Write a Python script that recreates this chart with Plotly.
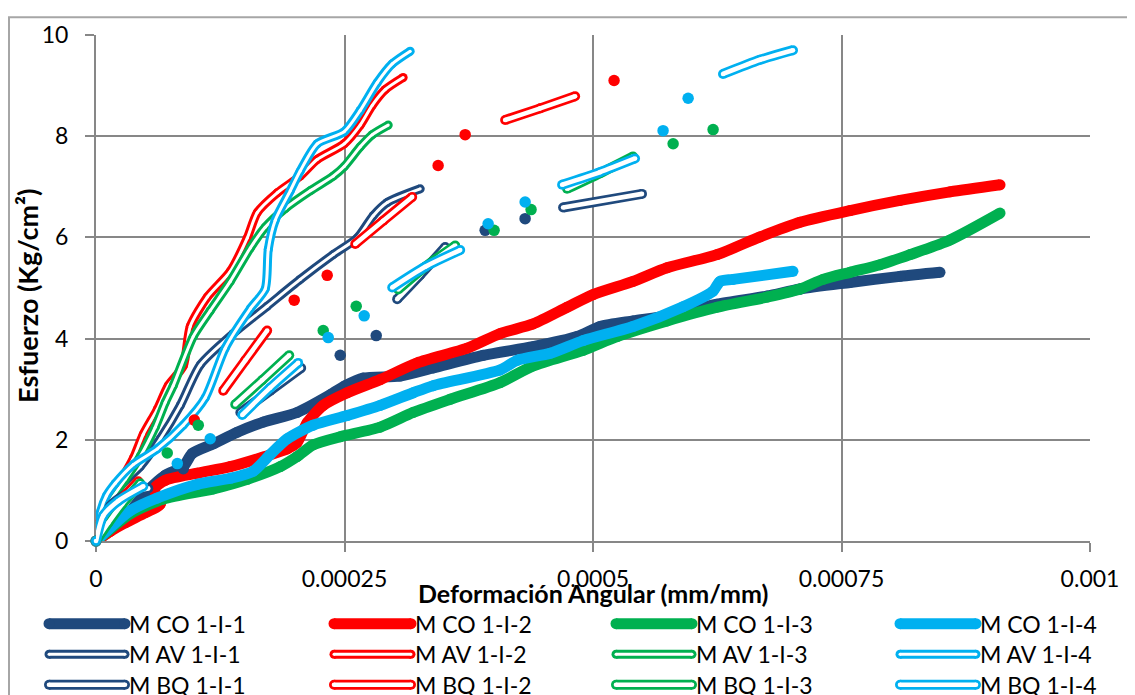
import plotly.graph_objects as go

# ---------------- data ----------------
NAVY = "#1F497D"
RED = "#FF0000"
GREEN = "#00B050"
CYAN = "#00B0F0"

x_tick_vals = [0, 0.00025, 0.0005, 0.00075, 0.001]
x_tick_labels = ["0", "0.00025", "0.0005", "0.00075", "0.001"]
y_tick_vals = [0, 2, 4, 6, 8, 10]
y_tick_labels = ["0", "2", "4", "6", "8", "10"]

x_title = "Deformación Angular (mm/mm)"
y_title = "Esfuerzo (Kg/cm²)"

# M CO series (thick solid lines)
co1_x = [0, 0.244e-4, 0.516e-4, 0.697e-4, 0.878e-4, 0.968e-4, 1.180e-4, 1.421e-4, 1.683e-4, 2.024e-4,
         2.356e-4, 2.507e-4, 2.688e-4, 3.059e-4, 3.392e-4, 3.894e-4, 4.397e-4, 4.840e-4, 5.071e-4,
         5.403e-4, 5.745e-4, 6.248e-4, 6.751e-4, 7.083e-4, 7.586e-4, 8.089e-4, 8.491e-4]
co1_y = [0, 0.36, 0.99, 1.30, 1.47, 1.73, 1.92, 2.15, 2.35, 2.54, 2.89, 3.07, 3.22, 3.26, 3.42, 3.67,
         3.84, 4.04, 4.24, 4.35, 4.45, 4.68, 4.84, 4.98, 5.11, 5.23, 5.31]

co2_x = [0, 0.144e-4, 0.295e-4, 0.496e-4, 0.647e-4, 0.586e-4, 0.697e-4, 1.019e-4, 1.351e-4, 1.683e-4,
         1.924e-4, 2.024e-4, 2.125e-4, 2.286e-4, 2.527e-4, 2.859e-4, 3.231e-4, 3.734e-4, 4.066e-4,
         4.397e-4, 4.739e-4, 5.001e-4, 5.403e-4, 5.745e-4, 6.248e-4, 6.680e-4, 7.083e-4, 7.586e-4,
         8.089e-4, 8.592e-4, 9.095e-4]
co2_y = [0, 0.19, 0.36, 0.56, 0.73, 1.03, 1.20, 1.34, 1.47, 1.66, 1.82, 1.95, 2.34, 2.68, 2.93, 3.19,
         3.52, 3.81, 4.10, 4.29, 4.62, 4.87, 5.13, 5.40, 5.66, 6.01, 6.30, 6.53, 6.73, 6.90, 7.04]

co3_x = [0, 0.345e-4, 0.677e-4, 1.180e-4, 1.522e-4, 1.854e-4, 2.024e-4, 2.185e-4, 2.457e-4, 2.859e-4,
         3.191e-4, 3.563e-4, 4.066e-4, 4.397e-4, 4.900e-4, 5.242e-4, 5.745e-4, 6.248e-4, 6.751e-4,
         7.083e-4, 7.314e-4, 7.586e-4, 7.888e-4, 8.190e-4, 8.592e-4, 9.095e-4]
co3_y = [0, 0.54, 0.83, 1.03, 1.22, 1.47, 1.67, 1.90, 2.06, 2.25, 2.54, 2.80, 3.13, 3.46, 3.77, 4.04,
         4.35, 4.62, 4.82, 4.98, 5.17, 5.31, 5.46, 5.66, 5.95, 6.48]

co4_x = [0, 0.345e-4, 0.616e-4, 1.019e-4, 1.351e-4, 1.582e-4, 1.753e-4, 1.924e-4, 2.185e-4, 2.527e-4,
         2.859e-4, 3.191e-4, 3.392e-4, 4.066e-4, 4.237e-4, 4.569e-4, 4.900e-4, 5.403e-4, 5.906e-4,
         6.208e-4, 6.278e-4, 6.409e-4, 7.012e-4]
co4_y = [0, 0.60, 0.85, 1.12, 1.24, 1.38, 1.71, 2.02, 2.29, 2.48, 2.68, 2.93, 3.07, 3.38, 3.57, 3.71,
         3.96, 4.24, 4.63, 4.94, 5.13, 5.17, 5.33]

# M AV series (steep double lines)
av1_x = [0, 0.094e-4, 0.244e-4, 0.445e-4, 0.647e-4, 0.848e-4, 1.049e-4, 1.381e-4, 1.722e-4, 2.054e-4,
         2.386e-4, 2.628e-4, 2.789e-4, 2.930e-4, 3.262e-4]
av1_y = [0, 0.50, 1.08, 1.47, 2.02, 2.68, 3.48, 4.10, 4.64, 5.17, 5.66, 5.99, 6.43, 6.69, 6.96]

av2_x = [0, 0.043e-4, 0.114e-4, 0.244e-4, 0.375e-4, 0.476e-4, 0.616e-4, 0.727e-4, 0.878e-4, 0.948e-4,
         1.119e-4, 1.351e-4, 1.522e-4, 1.622e-4, 1.823e-4, 2.054e-4, 2.225e-4, 2.497e-4, 2.658e-4,
         2.779e-4, 2.909e-4, 3.090e-4]
av2_y = [0, 0.40, 0.73, 1.17, 1.63, 2.11, 2.60, 3.07, 3.46, 4.24, 4.82, 5.33, 5.99, 6.49, 6.88, 7.21,
         7.54, 7.85, 8.22, 8.61, 8.92, 9.16]

av3_x = [0, 0.043e-4, 0.144e-4, 0.295e-4, 0.445e-4, 0.596e-4, 0.697e-4, 0.777e-4, 0.978e-4, 1.149e-4,
         1.351e-4, 1.552e-4, 1.702e-4, 1.904e-4, 2.155e-4, 2.386e-4, 2.497e-4, 2.658e-4, 2.779e-4,
         2.940e-4]
av3_y = [0, 0.36, 0.79, 1.22, 1.67, 2.25, 2.74, 3.07, 4.04, 4.55, 5.13, 5.79, 6.20, 6.57, 6.92, 7.21,
         7.40, 7.79, 8.03, 8.22]

av4_x = [0, 0.043e-4, 0.104e-4, 0.194e-4, 0.375e-4, 0.616e-4, 0.878e-4, 1.099e-4, 1.300e-4, 1.552e-4,
         1.702e-4, 1.733e-4, 1.803e-4, 1.954e-4, 2.054e-4, 2.225e-4, 2.497e-4, 2.658e-4, 2.829e-4,
         2.980e-4, 3.161e-4]
av4_y = [0, 0.56, 0.89, 1.14, 1.51, 1.82, 2.29, 2.83, 3.81, 4.59, 4.98, 5.76, 6.34, 6.92, 7.31, 7.85,
         8.09, 8.51, 9.06, 9.43, 9.68]

# M BQ series (broken readings: segments and isolated points)
bq1_x = [0, 0.144e-4, 0.325e-4, 0.526e-4, None, 0.878e-4, None,
         1.452e-4, 1.753e-4, 2.064e-4, None, 2.457e-4, None, 2.819e-4, None,
         3.030e-4, 3.262e-4, 3.513e-4, None, 3.915e-4, None, 4.317e-4, None,
         4.699e-4, 5.493e-4]
bq1_y = [0, 0.69, 0.95, 1.04, None, 1.43, None,
         2.54, 2.97, 3.42, None, 3.67, None, 4.06, None,
         4.78, 5.26, 5.81, None, 6.14, None, 6.37, None,
         6.59, 6.86]

bq2_x = [0, 0.094e-4, 0.244e-4, 0.425e-4, None, 0.989e-4, None,
         1.280e-4, 1.502e-4, 1.722e-4, None, 1.994e-4, None, 2.326e-4, None,
         2.608e-4, 2.890e-4, 3.181e-4, None, 3.442e-4, None, 3.714e-4, None,
         4.116e-4, 4.468e-4, 4.820e-4, None, 5.212e-4]
bq2_y = [0, 0.40, 0.79, 1.18, None, 2.39, None,
         2.97, 3.57, 4.16, None, 4.76, None, 5.25, None,
         5.87, 6.33, 6.80, None, 7.42, None, 8.03, None,
         8.32, 8.55, 8.79, None, 9.10]

bq3_x = [0, 0.124e-4, 0.264e-4, 0.445e-4, None, 0.717e-4, None, 1.029e-4, None,
         1.401e-4, 1.672e-4, 1.944e-4, None, 2.286e-4, None, 2.618e-4, None,
         3.040e-4, 3.312e-4, 3.614e-4, None, 4.005e-4, None, 4.377e-4, None,
         4.739e-4, 5.071e-4, 5.403e-4, None, 5.806e-4, None, 6.208e-4]
bq3_y = [0, 0.36, 0.73, 1.14, None, 1.74, None, 2.29, None,
         2.70, 3.18, 3.67, None, 4.16, None, 4.64, None,
         4.97, 5.42, 5.84, None, 6.14, None, 6.55, None,
         6.96, 7.27, 7.60, None, 7.85, None, 8.13]

bq4_x = [0, 0.073e-4, 0.224e-4, 0.476e-4, None, 0.818e-4, None, 1.149e-4, None,
         1.471e-4, 1.753e-4, 2.034e-4, None, 2.336e-4, None, 2.698e-4, None,
         2.980e-4, 3.312e-4, 3.664e-4, None, 3.945e-4, None, 4.317e-4, None,
         4.689e-4, 5.071e-4, 5.423e-4, None, 5.705e-4, None, 5.957e-4, None,
         6.308e-4, 6.680e-4, 7.012e-4]
bq4_y = [0, 0.50, 0.79, 1.08, None, 1.53, None, 2.02, None,
         2.49, 3.03, 3.52, None, 4.02, None, 4.45, None,
         5.01, 5.42, 5.75, None, 6.27, None, 6.70, None,
         7.04, 7.29, 7.56, None, 8.11, None, 8.75, None,
         9.23, 9.51, 9.70]

series_names = ["M CO 1-I-1", "M CO 1-I-2", "M CO 1-I-3", "M CO 1-I-4",
                "M AV 1-I-1", "M AV 1-I-2", "M AV 1-I-3", "M AV 1-I-4",
                "M BQ 1-I-1", "M BQ 1-I-2", "M BQ 1-I-3", "M BQ 1-I-4"]
colors = [NAVY, RED, GREEN, CYAN]

# ---------------- styling ----------------
W_CO = 11
W_AV, W_AV_GAP = 9.0, 3.0
W_BQ, W_BQ_GAP = 10.0, 4.6
DOT = 11.5
GRID = "#878787"
FONT = "Lato"
SMOOTH = 0.7

# page geometry (the page body has an 8px margin)
OFF = 8
FW, FH = 1135 - OFF, 695 - OFF
L, R, T, B = 96 - OFF, 45, 27 - OFF, 154
PW, PH = FW - L - R, FH - T - B


def pxx(px):
    """page pixel x -> paper x"""
    return (px - OFF - L) / PW


def pxy(py):
    """page pixel y -> paper y"""
    return (FH - B - (py - OFF)) / PH


fig = go.Figure()


def add_path(x, y, color, width, sizes=None, name=None):
    fig.add_trace(go.Scatter(
        x=x, y=y, mode="lines+markers", name=name,
        line=dict(color=color, width=width, shape="spline", smoothing=SMOOTH),
        marker=dict(color=color, size=sizes if sizes is not None else width,
                    line=dict(width=0), opacity=1),
        connectgaps=False, showlegend=False, hoverinfo="skip", cliponaxis=False))


def isolated_mask(y):
    n = len(y)
    out = []
    for i, v in enumerate(y):
        if v is None:
            out.append(False)
            continue
        left = i == 0 or y[i - 1] is None
        right = i == n - 1 or y[i + 1] is None
        out.append(left and right)
    return out


co = [(co1_x, co1_y), (co2_x, co2_y), (co3_x, co3_y), (co4_x, co4_y)]
av = [(av1_x, av1_y), (av2_x, av2_y), (av3_x, av3_y), (av4_x, av4_y)]
bq = [(bq1_x, bq1_y), (bq2_x, bq2_y), (bq3_x, bq3_y), (bq4_x, bq4_y)]

for (x, y), c, nm in zip(co, colors, series_names[0:4]):
    add_path(x, y, c, W_CO, name=nm)

for (x, y), c, nm in zip(av, colors, series_names[4:8]):
    add_path(x, y, c, W_AV, name=nm)
    add_path(x, y, "white", W_AV_GAP)

for (x, y), c, nm in zip(bq, colors, series_names[8:12]):
    iso = isolated_mask(y)
    sizes = [DOT if f else W_BQ for f in iso]
    add_path(x, y, c, W_BQ, sizes=sizes, name=nm)
    wy = [None if f else v for f, v in zip(iso, y)]
    wx = [None if f else v for f, v in zip(iso, x)]
    add_path(wx, wy, "white", W_BQ_GAP)

# ---------------- custom legend ----------------
shapes = []
annotations = []


def capsule(px0, px1, py, color, width):
    shapes.append(dict(type="line", xref="paper", yref="paper", layer="above",
                       x0=pxx(px0), x1=pxx(px1), y0=pxy(py), y1=pxy(py),
                       line=dict(color=color, width=width)))
    for e in (px0, px1):
        shapes.append(dict(type="circle", xref="paper", yref="paper", layer="above",
                           xsizemode="pixel", ysizemode="pixel",
                           xanchor=pxx(e), yanchor=pxy(py),
                           x0=-width / 2, x1=width / 2, y0=-width / 2, y1=width / 2,
                           fillcolor=color, line=dict(width=0)))


col_sym = [(49, 125), (334, 411), (616, 692), (900, 976)]
row_y = [625, 656, 687]
for k, nm in enumerate(series_names):
    row, col = divmod(k, 4)
    c = colors[col]
    s0, s1 = col_sym[col]
    yy = row_y[row]
    if row == 0:
        capsule(s0, s1, yy, c, W_CO)
    elif row == 1:
        capsule(s0, s1, yy, c, W_AV)
        capsule(s0, s1, yy, "white", W_AV_GAP)
    else:
        capsule(s0, s1, yy, c, W_BQ)
        capsule(s0, s1, yy, "white", W_BQ_GAP)
    annotations.append(dict(text=nm, xref="paper", yref="paper", x=pxx(s1 + 2), y=pxy(yy),
                            xanchor="left", yanchor="middle", showarrow=False,
                            font=dict(family=FONT, size=23, color="black")))

# chart border
shapes.append(dict(type="rect", xref="paper", yref="paper", layer="above",
                   x0=pxx(OFF + 1), x1=pxx(1129), y0=pxy(720), y1=pxy(OFF + 1),
                   line=dict(color="#A6A6A6", width=2), fillcolor="rgba(0,0,0,0)"))

# axis titles
annotations.append(dict(text="<b>%s</b>" % x_title, xref="paper", yref="paper",
                        x=pxx(593), y=pxy(594), xanchor="center", yanchor="middle",
                        showarrow=False, font=dict(family=FONT, size=25, color="black")))
annotations.append(dict(text="<b>%s</b>" % y_title, xref="paper", yref="paper",
                        x=pxx(28), y=pxy(292), xanchor="center", yanchor="middle", textangle=-90,
                        showarrow=False, font=dict(family=FONT, size=27, color="black")))

fig.update_layout(
    width=FW, height=FH,
    margin=dict(l=L, r=R, t=T, b=B, pad=0),
    paper_bgcolor="white", plot_bgcolor="white",
    showlegend=False,
    shapes=shapes, annotations=annotations,
    font=dict(family=FONT, size=23, color="black"),
)
fig.update_xaxes(range=[0, 0.001], tickvals=x_tick_vals, ticktext=x_tick_labels,
                 showgrid=True, gridcolor=GRID, gridwidth=2, zeroline=False,
                 showline=True, linecolor=GRID, linewidth=2,
                 ticks="outside", ticklen=9, tickwidth=2, tickcolor=GRID,
                 ticklabelstandoff=7, layer="below traces",
                 tickfont=dict(family=FONT, size=23, color="black"))
fig.update_yaxes(range=[0, 10], tickvals=y_tick_vals, ticktext=y_tick_labels,
                 showgrid=True, gridcolor=GRID, gridwidth=2, zeroline=False,
                 showline=True, linecolor=GRID, linewidth=2,
                 ticks="outside", ticklen=9, tickwidth=2, tickcolor=GRID,
                 ticklabelstandoff=12, layer="below traces",
                 tickfont=dict(family=FONT, size=23, color="black"))

fig.write_html("out.html")
